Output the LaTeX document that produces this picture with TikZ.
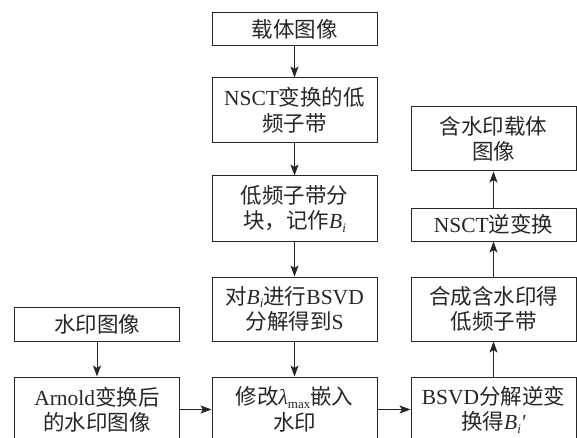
\documentclass[tikz,border=0pt]{standalone}
\usepackage{fontspec}
\setmainfont{Liberation Serif}
\newfontfamily\cjk{Noto Sans CJK SC}
\usetikzlibrary{arrows.meta}
\newcommand{\zh}[1]{{\cjk #1}}
\newcommand{\mysub}[1]{\raisebox{-0.35ex}{\fontsize{13}{13}\selectfont #1}}
\newcommand{\Bi}{\textit{B}\mysub{\textit{i}}}
\newcommand{\lmax}{\textit{λ}\mysub{max}}
\definecolor{ink}{HTML}{262626}
\begin{document}
\begin{tikzpicture}[x=1pt,y=-1pt,
  box/.style={draw=ink,line width=1pt,rectangle,minimum width=165pt,align=center,
    text=ink,font=\fontsize{21.5}{25.5}\selectfont,inner sep=0pt},
  two/.style={box,minimum height=65pt},
  one/.style={box,minimum height=33pt},
  conn/.style={draw=ink,line width=0.9pt,-{Stealth[length=11pt,width=8pt,inset=2.5pt]}}]
\useasboundingbox (0,0) rectangle (577,438);
\clip (0,0) rectangle (577,438);
\node[one] (carrier) at (294.5,29) {\zh{载体图像}};
\node[two] (nsct) at (294.5,110.5) {NSCT\zh{变换的低}\\\zh{频子带}};
\node[two] (block) at (294.5,208.5) {\zh{低频子带分}\\\zh{块，记作}\Bi};
\node[two,minimum height=64pt] (bsvd) at (294.5,309) {\zh{对}\Bi\zh{进行}BSVD\\\zh{分解得到}S};
\node[two] (embed) at (294.5,409.5) {\zh{修改}\lmax\zh{嵌入}\\\zh{水印}};
\node[box,minimum height=34pt] (wm) at (97,324) {\zh{水印图像}};
\node[two] (arnold) at (97,409.5) {Arnold\zh{变换后}\\\zh{的水印图像}};
\node[two,minimum height=64pt] (result) at (493.5,139) {\zh{含水印载体}\\\zh{图像}};
\node[one] (inv) at (493.5,224.5) {NSCT\zh{逆变换}};
\node[two,minimum height=64pt] (merge) at (493.5,309) {\zh{合成含水印得}\\\zh{低频子带}};
\node[two] (ibsvd) at (493.5,409.5) {BSVD\zh{分解逆变}\\\zh{换得}\Bi\textit{\textquotesingle}};
\draw[conn] (carrier) -- (nsct);
\draw[conn] (nsct) -- (block);
\draw[conn] (block) -- (bsvd);
\draw[conn] (bsvd) -- (embed);
\draw[conn] (wm) -- (arnold);
\draw[conn] (arnold) -- (embed);
\draw[conn] (embed) -- (ibsvd);
\draw[conn] (ibsvd) -- (merge);
\draw[conn] (merge) -- (inv);
\draw[conn] (inv) -- (result);
\end{tikzpicture}
\end{document}
